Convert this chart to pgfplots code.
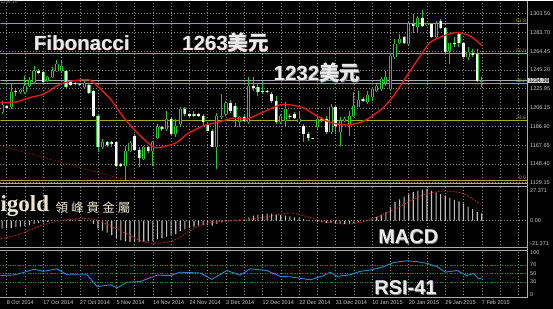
\documentclass[border=0pt]{standalone}
\usepackage{pgfplots}
\pgfplotsset{compat=1.18}
\usepackage{pgfplotstable}
\usepackage{fontspec}
\setmainfont{Liberation Sans}
\newfontfamily\cjk{Noto Sans CJK SC}
\newfontfamily\cjktc{Noto Sans CJK TC}
\newfontfamily\serifb{Liberation Serif}
\definecolor{cg}{RGB}{40,200,40}
\definecolor{fib}{RGB}{170,170,30}
\definecolor{gridc}{RGB}{140,140,140}
\definecolor{maRed}{RGB}{240,25,15}
\definecolor{sig}{RGB}{200,30,30}
\definecolor{rsiblue}{RGB}{40,140,210}
\definecolor{lvl}{RGB}{0,170,0}
\definecolor{lab}{RGB}{205,205,205}
\definecolor{cream}{RGB}{238,230,210}
\definecolor{sep}{RGB}{170,170,170}
\definecolor{trend}{RGB}{150,20,20}
\definecolor{hist}{RGB}{190,190,190}

\pgfplotstableread{
i o h l c
0 1201.5 1213.6 1199.9 1209.5
1 1208.4 1209.5 1205.4 1206.1
2 1206.7 1230.8 1205.1 1222.2
3 1223.9 1225.7 1218.7 1222.9
4 1222.2 1226.0 1220.8 1224.6
5 1222.2 1239.3 1220.5 1229.0
6 1229.0 1237.6 1228.0 1234.9
7 1232.5 1249.7 1230.8 1244.5
8 1244.5 1246.6 1241.4 1242.1
9 1242.8 1244.5 1230.8 1232.5
10 1233.5 1239.4 1232.5 1238.3
11 1238.3 1247.9 1237.0 1244.5
12 1243.8 1255.5 1242.8 1251.4
13 1243.8 1254.8 1242.8 1249.7
14 1243.8 1245.2 1226.7 1228.0
15 1232.5 1233.2 1229.0 1230.1
16 1231.8 1232.5 1229.5 1230.4
17 1231.1 1232.0 1228.5 1229.8
18 1227.3 1236.0 1225.7 1231.8
19 1229.8 1231.1 1220.8 1221.8
20 1223.2 1224.6 1196.4 1198.1
21 1198.1 1199.9 1160.3 1165.5
22 1165.5 1174.1 1163.9 1170.6
23 1170.6 1172.4 1166.2 1168.3
24 1170.6 1172.4 1165.5 1169.0
25 1170.6 1172.4 1144.9 1146.7
26 1148.4 1149.7 1145.6 1146.7
27 1146.7 1167.3 1131.9 1162.1
28 1162.1 1172.4 1160.3 1169.6
29 1177.6 1179.3 1162.1 1163.1
30 1163.1 1165.5 1144.9 1154.6
31 1153.5 1167.3 1152.5 1165.5
32 1165.5 1167.3 1160.0 1161.4
33 1161.4 1172.4 1146.7 1170.6
34 1175.2 1189.6 1174.1 1186.8
35 1186.1 1187.9 1182.7 1184.5
36 1184.5 1203.3 1182.0 1194.7
37 1194.7 1196.4 1177.6 1179.3
38 1179.3 1194.7 1175.8 1187.9
39 1189.6 1206.7 1187.9 1205.0
40 1205.0 1206.7 1198.1 1199.9
41 1199.9 1201.2 1197.1 1198.1
42 1199.9 1203.3 1196.4 1198.1
43 1199.9 1201.2 1197.1 1198.1
44 1198.1 1199.9 1188.9 1191.2
45 1189.6 1191.3 1182.0 1182.7
46 1182.7 1184.5 1165.5 1166.2
47 1166.2 1200.5 1143.6 1198.1
48 1196.4 1220.5 1194.7 1198.1
49 1199.9 1213.6 1198.1 1210.8
50 1210.8 1214.3 1201.0 1203.0
51 1208.4 1211.5 1186.1 1196.4
52 1191.2 1198.1 1186.1 1196.4
53 1196.4 1199.9 1191.2 1193.0
54 1191.2 1237.6 1189.6 1229.0
55 1229.0 1237.6 1223.9 1226.7
56 1228.0 1230.8 1218.7 1222.2
57 1223.9 1232.5 1220.5 1222.2
58 1223.9 1224.9 1221.8 1222.9
59 1220.5 1222.2 1210.8 1212.9
60 1213.6 1218.7 1189.6 1191.2
61 1191.2 1199.9 1189.6 1198.1
62 1193.0 1212.0 1188.0 1205.4
63 1198.1 1199.9 1194.7 1196.4
64 1199.9 1201.6 1194.7 1195.8
65 1191.2 1201.6 1190.2 1194.8
66 1187.9 1189.6 1170.7 1179.3
67 1179.3 1181.0 1172.4 1175.2
68 1175.2 1175.5 1174.5 1174.8
69 1186.1 1198.1 1184.5 1194.8
70 1195.1 1196.4 1192.0 1193.7
71 1194.8 1198.1 1179.3 1181.0
72 1181.0 1210.2 1179.3 1206.7
73 1206.7 1208.5 1179.3 1187.9
74 1181.0 1196.4 1167.3 1193.0
75 1193.0 1196.4 1191.3 1194.8
76 1189.6 1203.3 1177.6 1198.1
77 1198.1 1222.1 1196.4 1208.4
78 1207.4 1223.9 1206.7 1214.3
79 1215.4 1217.0 1211.9 1213.6
80 1211.9 1223.9 1210.2 1219.5
81 1217.0 1226.7 1213.6 1225.7
82 1223.2 1230.8 1222.2 1229.0
83 1225.7 1238.3 1223.9 1236.0
84 1231.4 1244.5 1229.0 1237.6
85 1225.7 1263.3 1223.9 1260.0
86 1258.2 1277.2 1256.5 1272.0
87 1272.6 1282.3 1272.0 1277.2
88 1279.5 1280.5 1272.0 1272.6
89 1272.0 1295.3 1270.2 1293.2
90 1292.6 1303.5 1283.9 1290.9
91 1289.8 1301.2 1283.9 1298.8
92 1298.8 1307.0 1289.1 1290.9
93 1291.9 1293.9 1290.9 1292.6
94 1292.6 1294.2 1278.2 1279.5
95 1279.5 1295.3 1278.2 1292.6
96 1295.3 1297.7 1287.4 1288.5
97 1288.5 1289.8 1261.7 1263.4
98 1264.4 1273.6 1251.4 1272.6
99 1273.6 1279.5 1268.5 1272.0
100 1282.3 1283.9 1268.5 1272.6
101 1272.6 1273.6 1256.5 1258.2
102 1258.2 1268.5 1255.5 1263.4
103 1263.0 1267.2 1258.9 1261.0
104 1261.7 1266.9 1232.5 1234.2
105 1233.0 1237.6 1228.0 1234.4
}\candles

\pgfplotstableread{
i m
0 -7
1 -7
2 -6.5
3 -6
4 -5.5
5 -5
6 -4
7 -3
8 -2
9 -1.5
10 -1
11 -0.5
12 0.3
13 0.5
14 0.5
15 0.5
16 0.5
17 0.5
18 0.3
19 -0.3
20 -3
21 -7
22 -9
23 -11
24 -13
25 -16
26 -18
27 -19
28 -19.5
29 -19
30 -19.5
31 -19.5
32 -19
33 -18.5
34 -17
35 -16
36 -14.5
37 -13.5
38 -12
39 -9.5
40 -8
41 -6.5
42 -5.5
43 -4.5
44 -4
45 -4
46 -4.5
47 -3
48 -1.5
49 -0.5
50 0.5
51 1
52 1
53 1
54 3
55 4.5
56 5.5
57 6
58 6.5
59 6.5
60 5.5
61 5
62 4.5
63 4
64 3
65 2.5
66 1.5
67 0.5
68 -0.5
69 -1
70 -1.5
71 -2
72 -2
73 -2.5
74 -3
75 -3
76 -3
77 -2
78 -1
79 0
80 0.5
81 2
82 3.5
83 5.5
84 8
85 12.5
86 17
87 19.5
88 22
89 24
90 26
91 27.5
92 28.3
93 28.9
94 27.4
95 25.8
96 24.3
97 22.8
98 20.7
99 19
100 17.6
101 15.8
102 12.8
103 10.6
104 8
105 6.7
}\macd

\pgfplotsset{
  panel/.style={scale only axis, width=527pt, anchor=south west,
    xmin=-0.372, xmax=114.9,
    axis line style={draw=none}, tick style={draw=none},
    xtick={1,5,...,113},
    yticklabel pos=right,
    yticklabel style={font=\fontsize{5.5}{6}\selectfont, text=lab, anchor=west, inner sep=0pt, xshift=3pt},
    xmajorgrids, grid style={gridc, dash pattern=on 1pt off 2pt, line width=0.5pt}},
}

\begin{document}
\begin{tikzpicture}
\fill[black] (0pt,0pt) rectangle (553pt,308pt);

% ---------------- main price panel
\begin{axis}[panel, at={(0pt,125pt)}, height=183pt,
  ymin=1128.1, ymax=1316.6, xticklabels={},
  ytick={1129.15,1148.40,1167.65,1186.90,1206.15,1225.95,1245.20,1264.45,1283.70,1303.50},
  yticklabels={1129.15,1148.40,1167.65,1186.90,1206.15,1225.95,1245.20,1264.45,1283.70,1303.50},
  ymajorgrids]
% Fibonacci levels
\addplot[fib, line width=1pt] coordinates {(-1,1131.5) (116,1131.5)};
\addplot[fib, line width=1pt] coordinates {(-1,1193.2) (116,1193.2)};
\addplot[fib, line width=1pt] coordinates {(-1,1231.4) (116,1231.4)};
\addplot[fib, line width=1pt] coordinates {(-1,1262.25) (116,1262.25)};
\addplot[fib, line width=1pt] coordinates {(-1,1293.1) (116,1293.1)};
% current price line
\addplot[sep, line width=0.7pt] coordinates {(-1,1234.39) (116,1234.39)};
% trend line
\addplot[trend, line width=0.8pt, dash pattern=on 1.2pt off 1.5pt] coordinates {(-0.37,1167.3) (26.5,1132.5)};
\node[fib, anchor=south east, inner sep=0.5pt, font=\fontsize{5}{5}\selectfont] at (axis cs:114.8,1293.1) {61.8};
\node[fib, anchor=south east, inner sep=0.5pt, font=\fontsize{5}{5}\selectfont] at (axis cs:114.8,1262.25) {50.0};
\node[fib, anchor=south east, inner sep=0.5pt, font=\fontsize{5}{5}\selectfont] at (axis cs:114.8,1231.4) {38.2};
\node[fib, anchor=south east, inner sep=0.5pt, font=\fontsize{5}{5}\selectfont] at (axis cs:114.8,1193.2) {23.6};
\node[fib, anchor=south east, inner sep=0.5pt, font=\fontsize{5}{5}\selectfont] at (axis cs:114.8,1131.5) {0.0};
% wicks
\addplot[draw=none, mark=none, forget plot,
  error bars/.cd, y dir=plus, y explicit, error mark=none,
  error bar style={draw=cg, line width=1pt}]
  table[x=i, y=l, y error expr={\thisrow{h}-\thisrow{l}}] {\candles};
% bodies outline
\addplot[draw=none, mark=none, forget plot,
  error bars/.cd, y dir=plus, y explicit, error mark=none,
  error bar style={draw=cg, line width=3.2pt}]
  table[x=i, y expr={min(\thisrow{o},\thisrow{c})}, y error expr={abs(\thisrow{c}-\thisrow{o})}] {\candles};
% bearish bodies white
\addplot[draw=none, mark=none, forget plot,
  restrict expr to domain={\thisrow{o}-\thisrow{c}}{0.01:1000},
  error bars/.cd, y dir=plus, y explicit, error mark=none,
  error bar style={draw=white, line width=2.3pt}]
  table[x=i, y=c, y error expr={\thisrow{o}-\thisrow{c}}] {\candles};
% bullish bodies black centre
\addplot[draw=none, mark=none, forget plot,
  restrict expr to domain={\thisrow{c}-\thisrow{o}}{0.01:1000},
  error bars/.cd, y dir=plus, y explicit, error mark=none,
  error bar style={draw=black, line width=1.2pt}]
  table[x=i, y=o, y error expr={\thisrow{c}-\thisrow{o}}] {\candles};
% moving average
\addplot[maRed, line width=1.3pt, smooth, tension=0.4] coordinates {
(-0.37,1211.8) (2.5,1211.8) (6.2,1217.0) (9.1,1220.5) (12.75,1230.8) (15.7,1234.2) (18.9,1235.2) (20.8,1229.0) (23.7,1215.3) (26.6,1196.4) (29.5,1181.0) (33.2,1165.5) (36.1,1167.2) (38.3,1170.7) (40.5,1179.3) (44.1,1187.9) (47.0,1191.2) (50.7,1195.8) (53.6,1194.8) (56.5,1200.5) (60.9,1209.5) (63.5,1209.0) (66.0,1206.1) (68.2,1199.9) (71.8,1191.2) (75.5,1188.6) (78.4,1191.2) (80.6,1196.4) (83.5,1206.7) (85.7,1218.7) (87.9,1234.2) (90.8,1254.8) (93.7,1273.7) (96.6,1280.5) (99.5,1284.0) (102.4,1280.5) (105.1,1270.2)};
\end{axis}

% ---------------- MACD panel
\begin{axis}[panel, at={(0pt,61pt)}, height=61pt,
  ymin=-24.6, ymax=31.0, xticklabels={},
  ytick={-21.371,0,27.371}, yticklabels={-21.371,0.00,27.371}]
\addplot[gridc, dash pattern=on 1pt off 2pt, line width=0.5pt] coordinates {(-1,0) (116,0)};
\addplot[ybar, bar width=1.1pt, fill=hist, draw=none] table[x=i, y=m] {\macd};
\addplot[sig, line width=0.9pt, dash pattern=on 1.5pt off 1.5pt, smooth] coordinates {
(-0.37,-16.7) (4.0,-12.2) (8.4,-4.6) (12.8,0) (17.9,2.1) (20.8,0.6) (23.7,-4.6) (27.3,-12.2) (30.3,-18.2) (33.2,-20.7) (37.5,-18.2) (41.2,-9.1) (44.8,-2.4) (50.7,0) (55.0,1.5) (60.9,5.8) (63.1,7.0) (66.0,4.6) (69.7,0) (73.3,-2.4) (76.3,-3.0) (79.9,0) (83.6,6.1) (86.5,11.6) (89.4,18.2) (92.4,23.7) (95.3,26.5) (98.2,26.8) (101.1,24.3) (104.7,15.2)};
\end{axis}

% ---------------- RSI panel
\begin{axis}[panel, at={(0pt,11pt)}, height=47pt,
  ymin=-7.1, ymax=104.0,
  ytick={0,30,50,70,100}, yticklabels={0,30,50,70,100},
  xticklabels={8 Oct 2014,,17 Oct 2014,,27 Oct 2014,,5 Nov 2014,,14 Nov 2014,,24 Nov 2014,,3 Dec 2014,,12 Dec 2014,,22 Dec 2014,,31 Dec 2014,,10 Jan 2015,,20 Jan 2015,,29 Jan 2015,,7 Feb 2015,,},
  xticklabel style={font=\fontsize{5.5}{6}\selectfont, text=lab, anchor=north west, inner sep=0pt, yshift=-2.5pt}]
\addplot[lvl, dash pattern=on 1pt off 1.5pt, line width=0.6pt] coordinates {(-1,70) (116,70)};
\addplot[lvl, dash pattern=on 1pt off 1.5pt, line width=0.6pt] coordinates {(-1,50) (116,50)};
\addplot[lvl, dash pattern=on 1pt off 1.5pt, line width=0.6pt] coordinates {(-1,30) (116,30)};
\addplot[rsiblue, line width=0.9pt] coordinates {
(-0.37,45) (2.5,46.5) (4.0,50) (6.9,60) (9.1,55) (12.0,61) (14.2,47) (18.6,47) (20.8,19) (23.7,23) (25.2,16) (27.3,29) (30.3,31) (33.9,46) (36.8,45) (39.0,53) (43.4,51) (45.9,36) (49.2,57) (52.1,46) (54.3,61) (57.9,57) (60.9,43) (63.1,42) (67.5,35) (70.4,45) (71.8,53) (73.3,43) (76.2,47) (78.4,55) (80.6,58) (83.5,66) (85.7,76) (88.6,80) (90.8,78) (93.0,74) (95.2,66) (97.0,53) (99.6,57) (101.7,45) (103.2,50) (104.3,37) (105.1,40)};
\end{axis}

% frames and separators
\draw[sep, line width=0.8pt] (0pt,125pt) -- (527pt,125pt);
\draw[sep, line width=0.8pt] (0pt,122pt) -- (527pt,122pt);
\draw[sep, line width=0.8pt] (0pt,61pt) -- (527pt,61pt);
\draw[sep, line width=0.8pt] (0pt,58pt) -- (527pt,58pt);
\draw[sep, line width=0.6pt] (0pt,11pt) -- (527pt,11pt);
\draw[sep, line width=0.8pt] (527pt,11pt) -- (527pt,308pt);

% current price tag
\node[fill=lab, text=black, inner sep=0.6pt, anchor=west, font=\fontsize{5.5}{6}\selectfont] at (528pt,228.2pt) {1234.39};
\node[text=gridc, anchor=north west, inner sep=0pt, font=\fontsize{4.5}{5}\selectfont] at (0pt,309pt) {1234.39};

% annotations
\node[anchor=base west, inner sep=0pt, text=gray, font=\fontsize{20.5}{22}\selectfont\bfseries] at (34pt,257.8pt) {Fibonacci};
\node[anchor=base west, inner sep=0pt, text=white!92!black, font=\fontsize{20.5}{22}\selectfont\bfseries] at (33.3pt,258.7pt) {Fibonacci};
\node[anchor=base west, inner sep=0pt, text=gray, font=\fontsize{20.5}{22}\selectfont\bfseries] at (182.4pt,257.8pt) {1263{\cjk\bfseries 美元}};
\node[anchor=base west, inner sep=0pt, text=white!92!black, font=\fontsize{20.5}{22}\selectfont\bfseries] at (181.7pt,258.7pt) {1263{\cjk\bfseries 美元}};
\node[anchor=base west, inner sep=0pt, text=gray, font=\fontsize{20.5}{22}\selectfont\bfseries] at (274pt,227.4pt) {1232{\cjk\bfseries 美元}};
\node[anchor=base west, inner sep=0pt, text=white!92!black, font=\fontsize{20.5}{22}\selectfont\bfseries] at (273.3pt,228.3pt) {1232{\cjk\bfseries 美元}};
\node[anchor=base west, inner sep=0pt, text=gray, font=\fontsize{20}{22}\selectfont\bfseries] at (378.7pt,64.1pt) {MACD};
\node[anchor=base west, inner sep=0pt, text=white!92!black, font=\fontsize{20}{22}\selectfont\bfseries] at (378pt,65pt) {MACD};
\node[anchor=base west, inner sep=0pt, text=gray, font=\fontsize{20}{22}\selectfont\bfseries] at (374.7pt,13.1pt) {RSI-41};
\node[anchor=base west, inner sep=0pt, text=white!92!black, font=\fontsize{20}{22}\selectfont\bfseries] at (374pt,14pt) {RSI-41};
\node[anchor=base west, inner sep=0pt, text=cream, font=\serifb\fontsize{23}{24}\selectfont\bfseries] at (0pt,97.3pt) {igold};
\node[anchor=base west, inner sep=0pt, text=cream, font=\cjktc\fontsize{12.6}{13}\selectfont] at (55pt,96.2pt) {領\hspace{3pt}峰\hspace{3pt}貴\hspace{3pt}金\hspace{3pt}屬};
\end{tikzpicture}
\end{document}
